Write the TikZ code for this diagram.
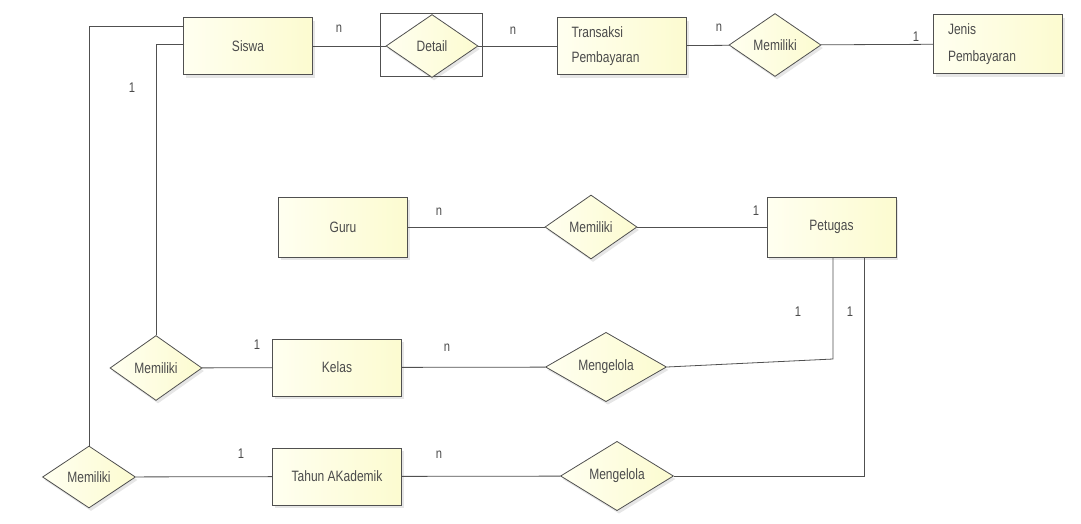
\documentclass[tikz,border=0pt]{standalone}
\usepackage{fontspec}
\setmainfont{Liberation Sans}[FakeStretch=0.8]
\usetikzlibrary{shapes.geometric, shadows}
\definecolor{erlight}{RGB}{255,255,240}
\definecolor{erfill}{RGB}{252,251,208}
\definecolor{erline}{RGB}{80,80,80}
\definecolor{ertext}{RGB}{75,75,75}
\begin{document}
\begin{tikzpicture}[x=1pt, y=-1pt, font=\fontsize{15}{17}\selectfont, text=ertext, ent/.style={rectangle, draw=erline, line width=0.8pt, left color=erlight, right color=erfill, minimum width=129pt, minimum height=57pt, inner sep=0pt, drop shadow={shadow xshift=2pt, shadow yshift=-3pt, opacity=0.2}}, rel/.style={diamond, draw=erline, line width=0.8pt, left color=erlight, right color=erfill, minimum width=92pt, minimum height=63pt, inner sep=0pt, drop shadow={shadow xshift=2pt, shadow yshift=-3pt, opacity=0.2}}, card/.style={font=\fontsize{14}{16}\selectfont}, e/.style={draw=erline, line width=0.8pt}]
            \useasboundingbox (0,0) rectangle (1081,523);
            % nodes
            \node[ent] (siswa) at (248,46) {Siswa};
            \node[rectangle, draw=erline, line width=0.8pt, minimum width=102pt, minimum height=63pt] (detailbox) at (431,45) {};
            \node[rel] (detail) at (432,46) {Detail};
            \node[ent, text width=101pt, align=left] (transaksi) at (622,46) {Transaksi\\[8pt]Pembayaran};
            \node[rel] (memJ) at (775,45) {Memiliki};
            \node[ent, minimum height=59pt, text width=100pt, align=left] (jenis) at (998,44) {Jenis\\[10pt]Pembayaran};
            \node[ent, minimum height=60pt] (guru) at (343,227) {Guru};
            \node[rel, minimum height=64pt] (memG) at (591,227) {Memiliki};
            \node[ent, minimum height=60pt] (petugas) at (831.5,227) {Petugas};
            \node[rel, minimum height=65pt] (memK) at (156,368) {Memiliki};
            \node[ent] (kelas) at (337,367.5) {Kelas};
            \node[rel, minimum width=121pt, minimum height=62pt] (mengK) at (606,367) {Mengelola};
            \node[rel, minimum width=93pt, minimum height=62pt] (memT) at (89,477) {Memiliki};
            \node[ent] (tahun) at (337,476.5) {Tahun AKademik};
            \node[rel, minimum width=113pt, minimum height=47pt] (mengT) at (617,476) {Mengelola};
            \coordinate (s1) at (184,26);
            \coordinate (s2) at (184,44);
            \coordinate (p1) at (833,257);
            \coordinate (p2) at (864,257);
            % cardinalities
            \node[card] (c1) at (339,29) {n};
            \node[card] (c2) at (513,31) {n};
            \node[card] (c3) at (719,28) {n};
            \node[card] (c4) at (916,37) {1};
            \node[card] (c5) at (132,88) {1};
            \node[card] (c6) at (439,212) {n};
            \node[card] (c7) at (756,211) {1};
            \node[card] (c8) at (798,312) {1};
            \node[card] (c9) at (850,312) {1};
            \node[card] (c10) at (257,345) {1};
            \node[card] (c11) at (447,348) {n};
            \node[card] (c12) at (241,454) {1};
            \node[card] (c13) at (439,455) {n};
            % edges
            \draw[e] (siswa) -- (detail);
            \draw[e] (detail) -- (transaksi);
            \draw[e] (transaksi) -- (memJ);
            \draw[e] (memJ) -- (jenis);
            \draw[e] (s1) -| (memT.north);
            \draw[e] (s2) -| (memK.north);
            \draw[e] (guru) -- (memG);
            \draw[e] (memG) -- (petugas);
            \draw[e] (memK) -- (kelas);
            \draw[e] (kelas) -- (mengK);
            \draw[e] (p1) -- ++(0,102) -- (mengK.east);
            \draw[e] (memT) -- (tahun);
            \draw[e] (tahun) -- (mengT);
            \draw[e] (p2) |- (mengT.east);
        \end{tikzpicture}
\end{document}
